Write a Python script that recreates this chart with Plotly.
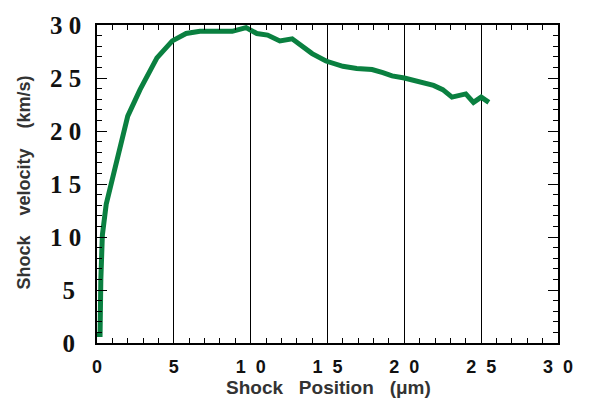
import plotly.graph_objects as go

position = [0.0, 0.2, 0.25, 0.35, 0.6, 1.0, 1.5, 2.0, 2.8, 3.9, 4.9, 5.8, 6.7, 8.8, 9.7, 10.4,
            11.1, 11.9, 12.7, 13.3, 14.0, 14.9, 16.0, 16.9, 17.9, 18.6, 19.2, 20.0, 21.0,
            21.9, 22.5, 23.1, 24.0, 24.5, 25.0, 25.5]
velocity = [0.8, 0.8, 6.0, 10.2, 13.1, 15.6, 18.6, 21.4, 23.9, 26.9, 28.5, 29.2, 29.4, 29.4,
            29.75, 29.2, 29.05, 28.5, 28.7, 28.1, 27.3, 26.6, 26.1, 25.9, 25.8, 25.5, 25.2,
            25.0, 24.6, 24.3, 23.9, 23.2, 23.5, 22.7, 23.2, 22.7]

x_ticks = [0, 5, 10, 15, 20, 25, 30]
x_labels = ["0", "5", "1  0", "1  5", "2  0", "2  5", "3  0"]
y_ticks = [0, 5, 10, 15, 20, 25, 30]
y_labels = ["0 ", "5 ", "1 0", "1 5", "2 0", "2 5", "3 0"]

W, H = 589, 401
ML, MR, MT, MB = 97, 31, 16, 58
pw, ph = W - ML - MR, H - MT - MB

fig = go.Figure()
fig.add_trace(go.Scatter(x=position, y=velocity, mode="lines",
                         line=dict(color="#0a8040", width=5), showlegend=False))

fig.update_layout(
    width=W, height=H,
    margin=dict(l=ML, r=MR, t=MT, b=MB),
    paper_bgcolor="white", plot_bgcolor="white",
    xaxis=dict(range=[0, 30], tickvals=x_ticks, ticktext=x_labels,
               showgrid=True, gridcolor="black", gridwidth=1,
               showline=True, linecolor="black", linewidth=1.5, mirror="allticks",
               ticks="inside", ticklen=5, tickcolor="black",
               minor=dict(dtick=1, ticks="inside", ticklen=5, tickcolor="black", showgrid=False),
               tickfont=dict(family="Liberation Sans", size=18, color="#111", weight="bold"),
               ticklabelstandoff=7, zeroline=False),
    yaxis=dict(range=[0, 30], tickvals=y_ticks, ticktext=y_labels,
               showgrid=False,
               showline=True, linecolor="black", linewidth=1.5, mirror="allticks",
               ticks="inside", ticklen=10, tickcolor="black",
               minor=dict(dtick=1, ticks="inside", ticklen=5, tickcolor="black", showgrid=False),
               tickfont=dict(family="Liberation Serif", size=25, color="#111", weight="bold"),
               ticklabelstandoff=9, zeroline=False),
    annotations=[
        dict(text="<b>Shock   Position   (μm)</b>", x=(328 - ML) / pw, xref="paper",
             y=(H - MB - 389) / ph, yref="paper", yanchor="middle",
             showarrow=False, font=dict(family="Liberation Sans", size=19, color="#333")),
        dict(text="<b>Shock    velocity    (km/s)</b>", x=(24 - ML) / pw, xref="paper",
             xanchor="center", y=(H - MB - 178) / ph, yref="paper", yanchor="middle",
             showarrow=False, textangle=-90,
             font=dict(family="Liberation Sans", size=18, color="#333")),
    ],
)
fig.write_html("out.html")
